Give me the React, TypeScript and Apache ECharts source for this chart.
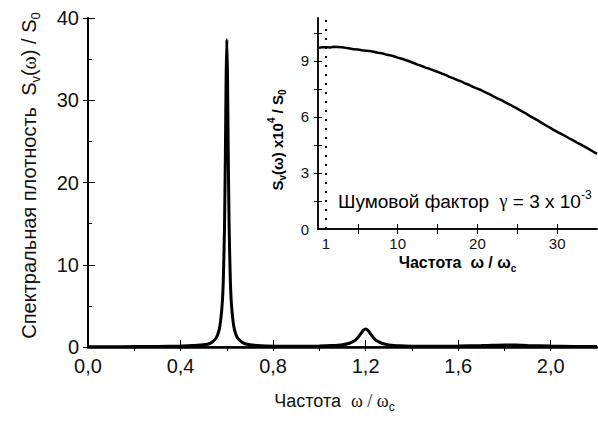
import React, { useEffect, useRef } from "react";
import * as echarts from "echarts";

// Main spectrum: frequency ω/ωc and spectral density Sv(ω)/S0
const mainFreq = [
  0.0, 0.1, 0.2, 0.3, 0.4, 0.45, 0.5, 0.53, 0.55, 0.56, 0.57, 0.58, 0.585, 0.59, 0.594, 0.597,
  0.6, 0.603, 0.606, 0.61, 0.615, 0.62, 0.63, 0.64, 0.65, 0.67, 0.7, 0.75, 0.8, 0.9, 1.0, 1.05,
  1.1, 1.13, 1.15, 1.165, 1.18, 1.19, 1.2, 1.21, 1.22, 1.235, 1.25, 1.27, 1.3, 1.35, 1.4, 1.5,
  1.6, 1.7, 1.75, 1.8, 1.85, 1.9, 2.0, 2.1, 2.2,
];
const mainDensity = [
  0.02, 0.03, 0.05, 0.07, 0.12, 0.18, 0.26, 0.48, 0.96, 1.46, 2.52, 5.2, 8.3, 14.6, 24.0, 32.8,
  37.4, 32.8, 24.0, 14.6, 8.3, 5.2, 2.52, 1.46, 0.96, 0.5, 0.27, 0.14, 0.1, 0.08, 0.12, 0.17,
  0.28, 0.46, 0.72, 1.1, 1.66, 2.03, 2.2, 2.03, 1.66, 1.1, 0.72, 0.46, 0.26, 0.14, 0.1, 0.09,
  0.11, 0.17, 0.22, 0.25, 0.24, 0.19, 0.11, 0.07, 0.05,
];

// Inset: broadband spectrum Sv(ω)·10^4/S0 over ω/ωc
const insetFreq = [
  0, 0.5, 1, 1.5, 2, 2.5, 3, 3.5, 4, 4.5, 5, 5.5, 6, 6.5, 7, 7.5, 8, 8.5, 9, 9.5, 10, 10.5, 11,
  11.5, 12, 12.5, 13, 13.5, 14, 14.5, 15, 15.5, 16, 16.5, 17, 17.5, 18, 18.5, 19, 19.5, 20, 20.5,
  21, 21.5, 22, 22.5, 23, 23.5, 24, 24.5, 25, 25.5, 26, 26.5, 27, 27.5, 28, 28.5, 29, 29.5, 30,
  30.5, 31, 31.5, 32, 32.5, 33, 33.5, 34, 34.5, 35,
];
const insetDensity = [
  9.7, 9.73, 9.74, 9.72, 9.76, 9.75, 9.73, 9.7, 9.67, 9.62, 9.61, 9.57, 9.55, 9.53, 9.49, 9.44,
  9.41, 9.35, 9.31, 9.25, 9.18, 9.12, 9.05, 8.97, 8.89, 8.8, 8.73, 8.64, 8.58, 8.49, 8.42, 8.33,
  8.25, 8.15, 8.07, 7.97, 7.9, 7.79, 7.71, 7.6, 7.52, 7.43, 7.32, 7.22, 7.11, 7.0, 6.9, 6.78,
  6.68, 6.56, 6.45, 6.32, 6.21, 6.07, 5.95, 5.83, 5.7, 5.57, 5.45, 5.32, 5.2, 5.09, 4.98, 4.86,
  4.75, 4.63, 4.52, 4.4, 4.28, 4.15, 4.02,
];

// Tick positions
const mainXLabels = [0, 0.4, 0.8, 1.2, 1.6, 2.0];
const mainXBottomTicks = [0.4, 0.8, 1.2, 1.6, 2.0];
const mainXTopTicks = [0.2, 0.4, 0.6, 0.8, 1.0, 1.2, 1.4, 1.6, 1.8, 2.0];
const insetXLabels = [1, 10, 20, 30];
const insetXTicks = [5, 10, 15, 20, 25, 30];
const insetYLabels = [0, 3, 6, 9];
const insetYTicks = [1.5, 3, 4.5, 6, 7.5, 9, 10.5];
const noiseFactorLine = 1;

const SANS = "Liberation Sans, Arial, sans-serif";
const SERIF = "Liberation Serif, Times New Roman, serif";

export default function App() {
  const ref = useRef<HTMLDivElement>(null);

  useEffect(() => {
    if (!ref.current) return;
    const chart = echarts.init(ref.current, null, { renderer: "svg" });

    const mainData = mainFreq.map((x, i) => [x, mainDensity[i]]);
    const insetData = insetFreq.map((x, i) => [x, insetDensity[i]]);

    const axisLine = (w: number) => ({ show: true, lineStyle: { color: "#000", width: w } });

    const mainRich = (size: number) => ({
      t: { fontFamily: SANS, fontSize: size, color: "#111" },
      w: { fontFamily: SERIF, fontSize: size, color: "#111" },
      sub: { fontFamily: SANS, fontSize: Math.round(size * 0.65), color: "#111", padding: [13, 0, 0, 0] },
    });
    const boldRich = {
      b: { fontFamily: SANS, fontSize: 16, fontWeight: "bold", color: "#000" },
      sub: { fontFamily: SANS, fontSize: 10, fontWeight: "bold", color: "#000", padding: [12, 0, 0, 0] },
      sup: { fontFamily: SANS, fontSize: 10, fontWeight: "bold", color: "#000", padding: [0, 0, 12, 0] },
    };
    const insetYRich = {
      b: { fontFamily: SANS, fontSize: 15, fontWeight: "bold", color: "#000" },
      sub: { fontFamily: SANS, fontSize: 10, fontWeight: "bold", color: "#000", padding: [11, 0, 0, 0] },
      sup: { fontFamily: SANS, fontSize: 10, fontWeight: "bold", color: "#000", padding: [0, 0, 11, 0] },
    };

    chart.setOption({
      animation: false,
      backgroundColor: "#fff",
      grid: [
        { left: 88, right: 1, top: 18, bottom: 79, show: false },
        {
          left: 318,
          right: 1,
          top: 18,
          height: 211,
          show: true,
          backgroundColor: "#fff",
          borderWidth: 0,
        },
      ],
      xAxis: [
        {
          type: "value",
          gridIndex: 0,
          position: "bottom",
          min: 0,
          max: 2.2,
          interval: 0.4,
          axisLine: axisLine(2.5),
          axisTick: { inside: true, length: 7, lineStyle: { color: "#000", width: 1 }, customValues: mainXBottomTicks },
          axisLabel: {
            customValues: mainXLabels,
            formatter: (v: number) => v.toFixed(1).replace(".", ","),
            fontFamily: SANS,
            fontSize: 20,
            color: "#111",
            margin: 9,
          },
          splitLine: { show: false },
          name: "{t|Частота  }{w|ω / ω}{sub|c}",
          nameLocation: "middle",
          nameGap: 41,
          nameTextStyle: { rich: mainRich(18), padding: [0, 16, 0, 0] },
        },
        {
          type: "value",
          gridIndex: 0,
          position: "top",
          min: 0,
          max: 2.2,
          axisLine: axisLine(1.5),
          axisTick: { inside: true, length: 4, lineStyle: { color: "#000" }, customValues: mainXTopTicks },
          axisLabel: { show: false },
          splitLine: { show: false },
        },
        {
          type: "value",
          gridIndex: 1,
          position: "bottom",
          min: 0,
          max: 35,
          axisLine: axisLine(1.5),
          axisTick: { inside: true, length: 5, lineStyle: { color: "#000" }, customValues: insetXTicks },
          axisLabel: { customValues: insetXLabels, fontFamily: SANS, fontSize: 15, color: "#111", margin: 7 },
          splitLine: { show: false },
          name: "{b|Частота  ω / ω}{sub|c}",
          nameLocation: "middle",
          nameGap: 22,
          nameTextStyle: { rich: boldRich },
        },
        {
          type: "value",
          gridIndex: 1,
          position: "top",
          min: 0,
          max: 35,
          axisLine: axisLine(1.5),
          axisTick: { inside: true, length: 5, lineStyle: { color: "#000" }, customValues: insetXTicks },
          axisLabel: { show: false },
          splitLine: { show: false },
        },
      ],
      yAxis: [
        {
          type: "value",
          gridIndex: 0,
          position: "left",
          min: 0,
          max: 40,
          interval: 10,
          axisLine: axisLine(2),
          axisTick: { inside: true, length: 7, lineStyle: { color: "#000" } },
          minorTick: { show: true, splitNumber: 2, length: 4, lineStyle: { color: "#000" } },
          axisLabel: { fontFamily: SANS, fontSize: 20, color: "#111", margin: 9 },
          splitLine: { show: false },
          minorSplitLine: { show: false },
          name: "{t|Спектральная плотность  S}{sub|v}{t|(}{w|ω}{t|) / S}{sub|0}",
          nameLocation: "middle",
          nameRotate: 90,
          nameGap: 46,
          nameTextStyle: { rich: mainRich(20), padding: [0, 0, 0, 14] },
        },
        {
          type: "value",
          gridIndex: 0,
          position: "right",
          min: 0,
          max: 40,
          interval: 10,
          axisLine: axisLine(1.5),
          axisTick: { inside: true, length: 5, lineStyle: { color: "#000" } },
          axisLabel: { show: false },
          splitLine: { show: false },
        },
        {
          type: "value",
          gridIndex: 1,
          position: "left",
          min: 0,
          max: 11.3,
          axisLine: axisLine(1.5),
          axisTick: { inside: true, length: 4, lineStyle: { color: "#000" }, customValues: insetYTicks },
          axisLabel: { customValues: insetYLabels, fontFamily: SANS, fontSize: 15, color: "#111", margin: 9 },
          splitLine: { show: false },
        },
        {
          type: "value",
          gridIndex: 1,
          position: "right",
          min: 0,
          max: 11.3,
          axisLine: axisLine(1.5),
          axisTick: { inside: true, length: 4, lineStyle: { color: "#000" }, customValues: insetYTicks },
          axisLabel: { show: false },
          splitLine: { show: false },
        },
      ],
      series: [
        {
          type: "line",
          xAxisIndex: 0,
          yAxisIndex: 0,
          data: mainData,
          showSymbol: false,
          smooth: 0.2,
          lineStyle: { color: "#000", width: 3 },
          z: 3,
        },
        {
          type: "line",
          xAxisIndex: 2,
          yAxisIndex: 2,
          data: insetData,
          showSymbol: false,
          lineStyle: { color: "#000", width: 2.5 },
          markLine: {
            silent: true,
            symbol: "none",
            label: { show: false },
            lineStyle: { color: "#000", type: [2, 7], width: 2 },
            data: [{ xAxis: noiseFactorLine }],
          },
        },
      ],
      graphic: [
        {
          type: "text",
          x: 277,
          y: 140,
          rotation: Math.PI / 2,
          style: {
            text: "{b|S}{sub|v}{b|(ω) x10}{sup|4}{b| / S}{sub|0}",
            rich: insetYRich,
            align: "center",
            verticalAlign: "middle",
          },
        },
        {
          type: "text",
          x: 338,
          y: 201,
          style: {
            text: "{t|Шумовой фактор  }{g|γ}{t| = 3 x 10}{sup|-3}",
            rich: {
              t: { fontFamily: SANS, fontSize: 19, color: "#111" },
              g: { fontFamily: SERIF, fontSize: 18, color: "#111" },
              sup: { fontFamily: SANS, fontSize: 12, color: "#111", padding: [0, 0, 13, 0] },
            },
            align: "left",
            verticalAlign: "middle",
          },
        },
      ],
    });

    return () => chart.dispose();
  }, []);

  return (
    <div
      ref={ref}
      style={{ position: "fixed", left: 0, top: 0, width: 598, height: 426, background: "#fff" }}
    />
  );
}
